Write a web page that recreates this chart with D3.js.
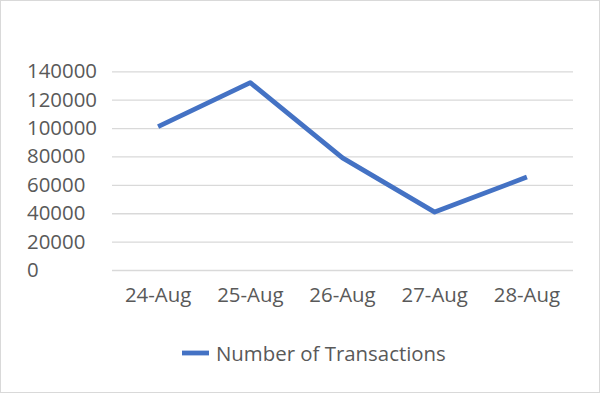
<!DOCTYPE html>
<html><head><meta charset="utf-8">
<script src="https://cdn.jsdelivr.net/npm/d3@7"></script>
<style>
html,body{margin:0;padding:0;background:#fff;}
svg{display:block;}
</style></head><body>
<script>
const categories = ["24-Aug","25-Aug","26-Aug","27-Aug","28-Aug"];
const transactions = [101000, 132000, 79000, 40800, 65500];
const yTicks = [0,20000,40000,60000,80000,100000,120000,140000];
const seriesName = "Number of Transactions";

const W = 600, H = 394;
const svg = d3.select("body").append("svg").attr("width", W).attr("height", H);
svg.append("rect").attr("x",0.5).attr("y",0.5).attr("width",W-1).attr("height",H-2)
  .attr("fill","#fff").attr("stroke","#d9d9d9").attr("stroke-width",1);

const x = d3.scaleBand().domain(categories).range([112, 573]);
const y = d3.scaleLinear().domain([0,140000]).range([270, 71.3]);
const font = "'Open Sans', sans-serif";
const fs = "20.4px";

const yAxis = d3.axisLeft(y).tickValues(yTicks).tickSize(-(573-112)).tickPadding(0).tickFormat(d3.format("d"));
const gy = svg.append("g").attr("transform","translate(112,0)").call(yAxis);
gy.select(".domain").remove();
gy.selectAll(".tick line").attr("stroke","#d9d9d9").attr("stroke-width",1.3);
gy.selectAll(".tick text").attr("fill","#595959").attr("font-family",font).attr("font-size",fs)
  .attr("text-anchor","start").attr("x", 27-112);

const xAxis = d3.axisBottom(x).tickSize(0).tickPadding(18);
const gx = svg.append("g").attr("transform","translate(0,270)").call(xAxis);
gx.select(".domain").remove();
gx.selectAll(".tick text").attr("fill","#595959").attr("font-family",font).attr("font-size",fs);

const line = d3.line().x((d,i)=>x(categories[i]) + x.bandwidth()/2).y(d=>y(d));
svg.append("path").datum(transactions).attr("d",line).attr("fill","none")
  .attr("stroke","#4472C4").attr("stroke-width",4.8).attr("stroke-linejoin","round").attr("stroke-linecap","butt");

const lg = svg.append("g");
lg.append("line").attr("x1",182).attr("x2",209).attr("y1",353).attr("y2",353)
  .attr("stroke","#4472C4").attr("stroke-width",4.8);
lg.append("text").attr("x",216).attr("y",361).attr("fill","#595959").attr("font-family",font)
  .attr("font-size",fs).text(seriesName);
</script>
</body></html>
